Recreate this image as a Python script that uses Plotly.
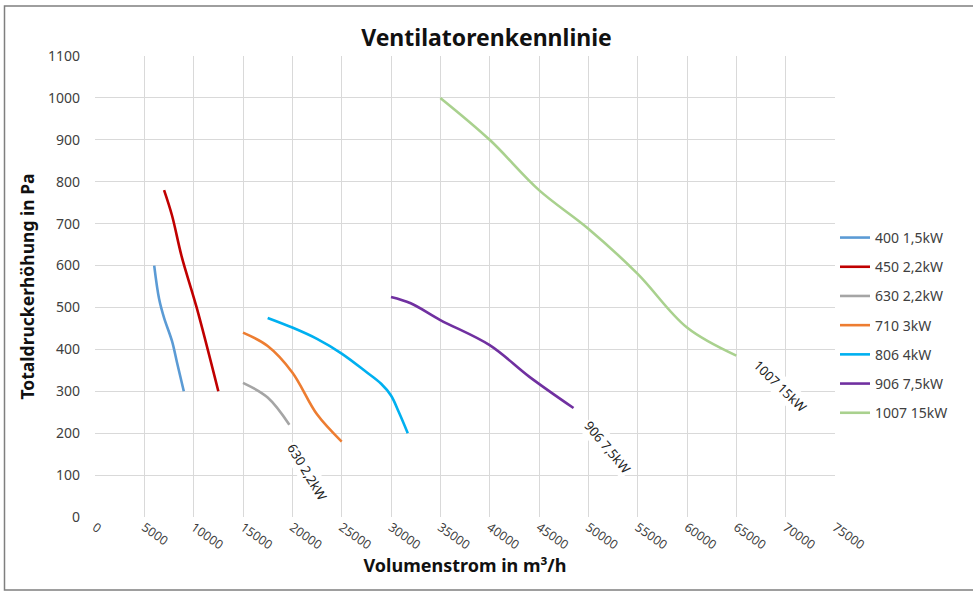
import plotly.graph_objects as go

# ---- data ----
names = ["400 1,5kW", "450 2,2kW", "630 2,2kW", "710 3kW", "806 4kW", "906 7,5kW", "1007 15kW"]
colors = ["#5B9BD5", "#C00000", "#A5A5A5", "#ED7D31", "#00B0F0", "#7030A0", "#A9D18E"]

x_400 = [6000, 6500, 7000, 7800, 8300, 9000]
y_400 = [600, 520, 475, 420, 370, 300]

x_450 = [7000, 7800, 8800, 10300, 12500]
y_450 = [780, 720, 620, 500, 300]

x_630 = [15000, 17500, 19700]
y_630 = [320, 285, 220]

x_710 = [15000, 17500, 20000, 22500, 25000]
y_710 = [440, 408, 345, 245, 180]

x_806 = [17500, 20000, 22500, 25000, 27500, 29000, 30000, 30800, 31700]
y_806 = [475, 452, 425, 390, 346, 318, 290, 250, 200]

x_906 = [30000, 32000, 35000, 40000, 44000, 48500]
y_906 = [525, 510, 470, 410, 335, 260]

x_1007 = [35000, 40000, 45000, 50000, 55000, 60000, 65000]
y_1007 = [1000, 900, 780, 688, 580, 452, 385]

xs = [x_400, x_450, x_630, x_710, x_806, x_906, x_1007]
ys = [y_400, y_450, y_630, y_710, y_806, y_906, y_1007]

x_ticks = list(range(0, 75001, 5000))
y_ticks = list(range(0, 1101, 100))

# data labels: series index, rotation, pixel shift from last point
labels = [(2, 59, 18, -47), (5, 50, 34, -39), (6, 44, 44, -30)]

FONT = "Noto Sans"

fig = go.Figure()
for i, (n, c) in enumerate(zip(names, colors)):
    fig.add_trace(go.Scatter(
        x=xs[i], y=ys[i], name=n, mode="lines",
        line=dict(color=c, width=2.6, shape="spline", smoothing=1.0),
        legendgroup=n,
    ))

for idx, ang, dx, dy in labels:
    fig.add_annotation(
        x=xs[idx][-1], y=ys[idx][-1], text=names[idx], showarrow=False,
        textangle=ang, xshift=dx, yshift=dy, bgcolor="white",
        font=dict(family=FONT, size=13, color="#222"),
    )

W, H = 973, 592
L, T, B = 95, 56, 75
R = W - 835

fig.update_layout(
    width=W, height=H,
    margin=dict(l=L, r=R, t=T, b=B),
    paper_bgcolor="white", plot_bgcolor="white",
    title=dict(text="<b>Ventilatorenkennlinie</b>", x=0.5, xanchor="center",
               y=1 - 38 / H, yanchor="middle",
               font=dict(family=FONT, size=23, color="#111")),
    font=dict(family=FONT, size=12, color="#404040"),
    showlegend=True,
    legend=dict(x=1.0, xanchor="left", y=0.64, yanchor="top",
                font=dict(family=FONT, size=14, color="#404040"),
                tracegroupgap=8, traceorder="grouped",
                bgcolor="rgba(0,0,0,0)"),
    shapes=[dict(type="rect", xref="paper", yref="paper",
                 x0=(4.5 - L) / 740, x1=(990 - L) / 740,
                 y0=-(590 - 517) / 461, y1=(517 - 6) / 461,
                 line=dict(color="#7f7f7f", width=1.5), layer="below")],
)
fig.update_xaxes(
    range=[0, 75000], tickvals=x_ticks, ticktext=[str(v) for v in x_ticks],
    tickangle=35, showgrid=True, gridcolor="#d9d9d9", gridwidth=1,
    zeroline=False, showline=False, ticks="",
    tickfont=dict(family=FONT, size=12.5, color="#404040"),
    title=dict(text="<b>Volumenstrom in m³/h</b>", standoff=6,
               font=dict(family=FONT, size=18, color="#111")),
)
fig.update_yaxes(
    range=[0, 1100], tickvals=y_ticks, ticktext=[str(v) for v in y_ticks],
    showgrid=True, gridcolor="#d9d9d9", gridwidth=1,
    zeroline=False, showline=False, ticks="", ticklabelstandoff=14,
    tickfont=dict(family=FONT, size=14, color="#404040"),
    title=dict(text="<b>Totaldruckerhöhung in Pa</b>", standoff=8,
               font=dict(family=FONT, size=17.5, color="#111")),
)

fig.write_html("out.html", config={"displayModeBar": False},
               post_script="document.body.style.margin='0';document.body.style.overflow='hidden';")
